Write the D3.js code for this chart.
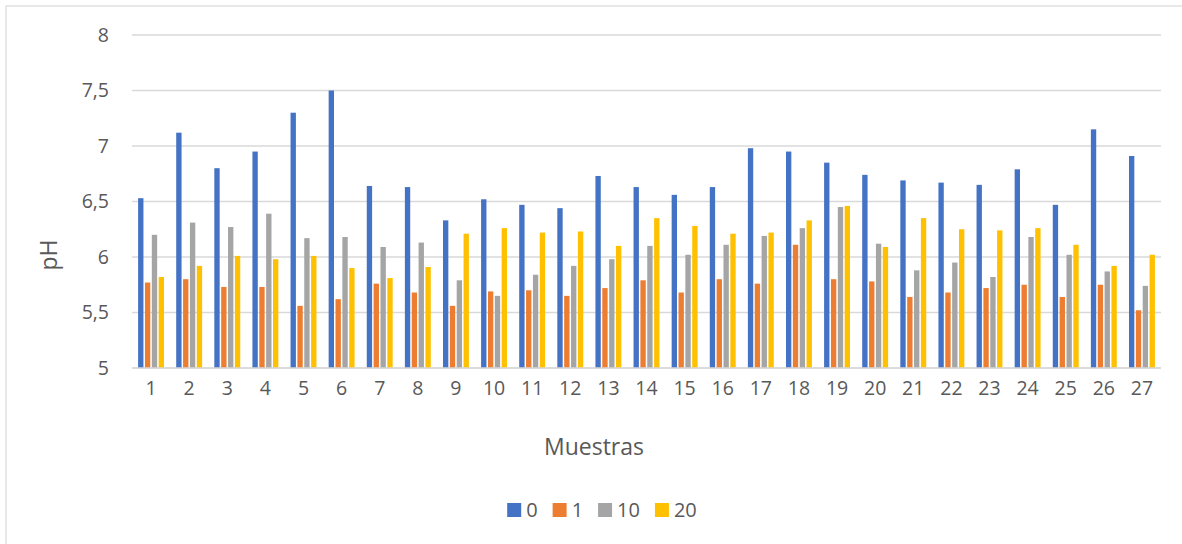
<!DOCTYPE html>
<html>
<head>
<meta charset="utf-8">
<script src="https://cdn.jsdelivr.net/npm/d3@7"></script>
<style>
  html, body { margin: 0; padding: 0; background: #fff; }
  svg { display: block; font-family: "Open Sans", "Noto Sans", sans-serif; }
</style>
</head>
<body>
<svg id="chart" width="1182" height="544"></svg>
<script>
// Muestras 1..27
const categories = d3.range(1, 28).map(String);
const seriesNames = ["0", "1", "10", "20"];
const seriesColors = ["#4472C4", "#ED7D31", "#A5A5A5", "#FFC000"];

// pH por serie
const ph0  = [6.53, 7.12, 6.80, 6.95, 7.30, 7.50, 6.64, 6.63, 6.33, 6.52, 6.47, 6.44, 6.73, 6.63,
              6.56, 6.63, 6.98, 6.95, 6.85, 6.74, 6.69, 6.67, 6.65, 6.79, 6.47, 7.15, 6.91];
const ph1  = [5.77, 5.80, 5.73, 5.73, 5.56, 5.62, 5.76, 5.68, 5.56, 5.69, 5.70, 5.65, 5.72, 5.79,
              5.68, 5.80, 5.76, 6.11, 5.80, 5.78, 5.64, 5.68, 5.72, 5.75, 5.64, 5.75, 5.52];
const ph10 = [6.20, 6.31, 6.27, 6.39, 6.17, 6.18, 6.09, 6.13, 5.79, 5.65, 5.84, 5.92, 5.98, 6.10,
              6.02, 6.11, 6.19, 6.26, 6.45, 6.12, 5.88, 5.95, 5.82, 6.18, 6.02, 5.87, 5.74];
const ph20 = [5.82, 5.92, 6.01, 5.98, 6.01, 5.90, 5.81, 5.91, 6.21, 6.26, 6.22, 6.23, 6.10, 6.35,
              6.28, 6.21, 6.22, 6.33, 6.46, 6.09, 6.35, 6.25, 6.24, 6.26, 6.11, 5.92, 6.02];
const seriesValues = [ph0, ph1, ph10, ph20];

const yTicks = [5, 5.5, 6, 6.5, 7, 7.5, 8];
const yLabel = "pH";
const xLabel = "Muestras";

const svg = d3.select("#chart");
const textColor = "#595959";
const fmt = v => String(v).replace(".", ",");

// chart frame
svg.append("rect")
  .attr("x", 6).attr("y", 6).attr("width", 1190).attr("height", 560)
  .attr("fill", "#fff").attr("stroke", "#d9d9d9").attr("stroke-width", 1.2);

const plot = { left: 132, right: 1161, top: 35, bottom: 368 };

const x0 = d3.scaleBand().domain(categories).range([plot.left, plot.right]).paddingInner(0).paddingOuter(0);
const groupPad = x0.bandwidth() * 0.16;
const x1 = d3.scaleBand().domain(seriesNames)
  .range([groupPad, x0.bandwidth() - groupPad]).paddingInner(0.22).paddingOuter(0);
const y = d3.scaleLinear().domain([5, 8]).range([plot.bottom, plot.top]);

// gridlines
svg.append("g")
  .selectAll("line")
  .data(yTicks)
  .join("line")
  .attr("x1", plot.left).attr("x2", plot.right)
  .attr("y1", d => y(d)).attr("y2", d => y(d))
  .attr("stroke", "#d9d9d9").attr("stroke-width", 1.3);

// y axis labels
const yAxis = d3.axisLeft(y).tickValues(yTicks).tickFormat(fmt).tickSize(0).tickPadding(0);
svg.append("g")
  .attr("transform", `translate(${plot.left - 23},0)`)
  .call(yAxis)
  .call(g => g.select(".domain").remove())
  .selectAll("text")
  .attr("font-size", 19.5).attr("fill", textColor).attr("font-family", "Open Sans");

// bars
const groups = svg.append("g")
  .selectAll("g")
  .data(categories)
  .join("g")
  .attr("transform", d => `translate(${x0(d)},0)`);

groups.selectAll("rect")
  .data((d, i) => seriesNames.map((s, k) => ({ s, v: seriesValues[k][i], k })))
  .join("rect")
  .attr("x", d => x1(d.s))
  .attr("width", x1.bandwidth())
  .attr("y", d => y(d.v))
  .attr("height", d => y(5) - y(d.v))
  .attr("fill", d => seriesColors[d.k]);

// baseline
svg.append("line")
  .attr("x1", plot.left).attr("x2", plot.right)
  .attr("y1", y(5)).attr("y2", y(5))
  .attr("stroke", "#d9d9d9").attr("stroke-width", 1.3);

// x axis labels
const xAxis = d3.axisBottom(x0).tickSize(0).tickPadding(0);
svg.append("g")
  .attr("transform", `translate(0,${plot.bottom + 13})`)
  .call(xAxis)
  .call(g => g.select(".domain").remove())
  .selectAll("text")
  .attr("font-size", 19.5).attr("fill", textColor).attr("font-family", "Open Sans");

// axis titles
svg.append("text")
  .attr("x", 594).attr("y", 455)
  .attr("text-anchor", "middle")
  .attr("font-size", 23).attr("fill", textColor)
  .text(xLabel);

svg.append("text")
  .attr("transform", "translate(57,255) rotate(-90)")
  .attr("text-anchor", "middle")
  .attr("font-size", 23).attr("fill", textColor)
  .text(yLabel);

// legend
const legend = svg.append("g");
let lx = 0;
seriesNames.forEach((s, k) => {
  const item = legend.append("g").attr("transform", `translate(${lx},0)`);
  item.append("rect").attr("x", 0).attr("y", -14).attr("width", 14).attr("height", 14)
    .attr("fill", seriesColors[k]);
  const t = item.append("text").attr("x", 19).attr("y", 0)
    .attr("font-size", 20).attr("fill", textColor).text(s);
  lx += 19 + t.node().getComputedTextLength() + 15;
});
const legendWidth = lx - 15;
legend.attr("transform", `translate(${602 - legendWidth / 2},517)`);
</script>
</body>
</html>
